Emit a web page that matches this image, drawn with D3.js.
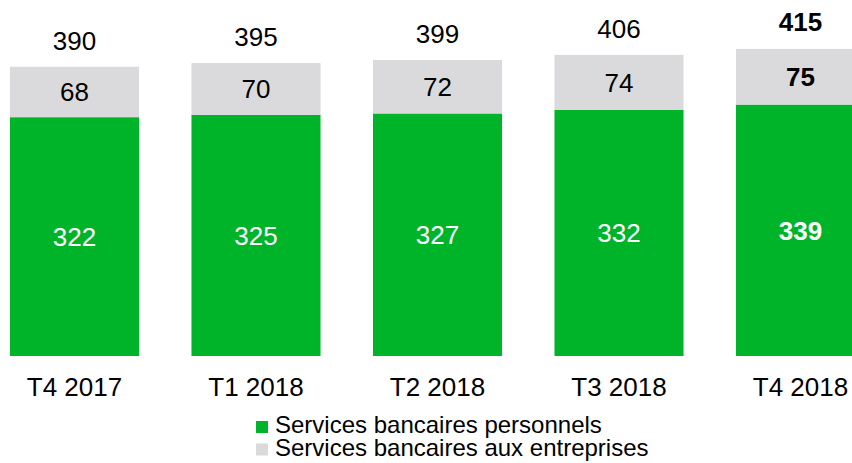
<!DOCTYPE html>
<html>
<head>
<meta charset="utf-8">
<script src="https://cdn.jsdelivr.net/npm/d3@7"></script>
<style>
  html, body { margin: 0; padding: 0; background: #fff; }
  svg { display: block; font-family: "Liberation Sans", Arial, sans-serif; }
</style>
</head>
<body>
<svg id="chart" width="852" height="463"></svg>
<script>
// ----- data -----
const quarters = ["T4 2017", "T1 2018", "T2 2018", "T3 2018", "T4 2018"];
const personnels = [322, 325, 327, 332, 339];
const entreprises = [68, 70, 72, 74, 75];
const totals = [390, 395, 399, 406, 415];
const seriesNames = ["Services bancaires personnels", "Services bancaires aux entreprises"];
const seriesColors = ["#00b42a", "#dadadc"];

const svg = d3.select("#chart");

// x: 5 bars, step ~181.5, width ~129
const x = d3.scaleBand().domain(quarters).range([-16.25, 891.25]).paddingInner(0.289).paddingOuter(0.1445);
const y = d3.scaleLinear().domain([0, 480]).range([356, 0]);

const rows = quarters.map((q, i) => ({ q, p: personnels[i], e: entreprises[i], t: totals[i], last: i === quarters.length - 1 }));

// green segment
svg.append("g").selectAll("rect").data(rows).join("rect")
  .attr("x", d => x(d.q)).attr("width", x.bandwidth())
  .attr("y", d => y(d.p)).attr("height", d => y(0) - y(d.p))
  .attr("fill", seriesColors[0]);

// gray segment
svg.append("g").selectAll("rect").data(rows).join("rect")
  .attr("x", d => x(d.q)).attr("width", x.bandwidth())
  .attr("y", d => y(d.p + d.e)).attr("height", d => y(d.p) - y(d.p + d.e))
  .attr("fill", seriesColors[1]);

const cx = d => x(d.q) + x.bandwidth() / 2;

// labels inside green
svg.append("g").selectAll("text").data(rows).join("text")
  .attr("x", cx).attr("y", d => (y(0) + y(d.p)) / 2)
  .attr("dy", "0.36em").attr("text-anchor", "middle")
  .attr("font-size", 26).attr("fill", "#fff")
  .attr("font-weight", d => d.last ? "bold" : "normal")
  .text(d => d.p);

// labels inside gray
svg.append("g").selectAll("text").data(rows).join("text")
  .attr("x", cx).attr("y", d => (y(d.p) + y(d.p + d.e)) / 2)
  .attr("dy", "0.36em").attr("text-anchor", "middle")
  .attr("font-size", 26).attr("fill", "#000")
  .attr("font-weight", d => d.last ? "bold" : "normal")
  .text(d => d.e);

// totals above
svg.append("g").selectAll("text").data(rows).join("text")
  .attr("x", cx).attr("y", d => y(d.t) - 17)
  .attr("text-anchor", "middle")
  .attr("font-size", 26).attr("fill", "#000")
  .attr("font-weight", d => d.last ? "bold" : "normal")
  .text(d => d.t);

// category labels
svg.append("g").selectAll("text").data(rows).join("text")
  .attr("x", cx).attr("y", 396)
  .attr("text-anchor", "middle")
  .attr("font-size", 26).attr("fill", "#000")
  .text(d => d.q);

// legend
const legend = svg.append("g").attr("transform", "translate(256,421)");
const items = legend.selectAll("g").data(seriesNames).join("g")
  .attr("transform", (d, i) => `translate(0,${i * 22.5})`);
items.append("rect").attr("width", 12).attr("height", 12)
  .attr("fill", (d, i) => seriesColors[i]);
items.append("text").attr("x", 19).attr("y", 12)
  .attr("font-size", 24).attr("fill", "#000")
  .text(d => d);
</script>
</body>
</html>
